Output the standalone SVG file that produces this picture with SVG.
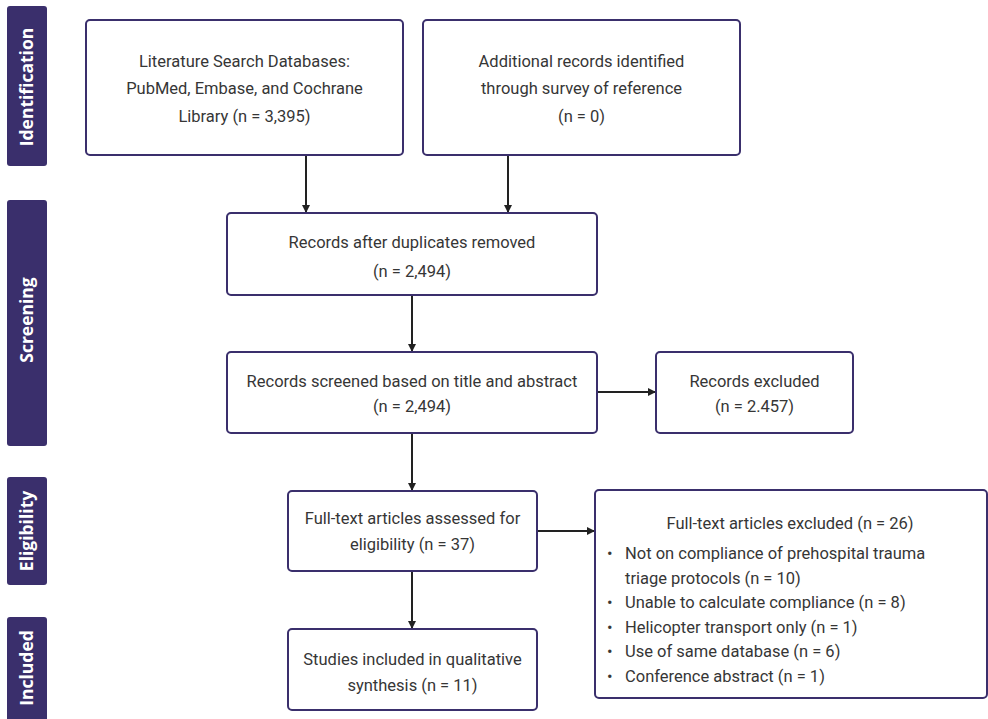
<svg xmlns="http://www.w3.org/2000/svg" width="988" height="719" viewBox="0 0 988 719">
  <style>
    .band { fill: #3a2f6c; }
    .band-label { fill: #ffffff; font-family: "Open Sans", "Liberation Sans", sans-serif; font-weight: 700; font-size: 17.5px; text-anchor: middle; }
    .box { fill: #ffffff; stroke: #3a2f6c; stroke-width: 2; }
    .txt { fill: #363636; font-family: Roboto, "Liberation Sans", sans-serif; font-size: 16.5px; text-anchor: middle; }
    .txt-l { fill: #363636; font-family: Roboto, "Liberation Sans", sans-serif; font-size: 16.5px; }
    .link { stroke: #222222; stroke-width: 2; fill: none; marker-end: url(#arrow); }
  </style>
  <defs>
    <marker id="arrow" markerWidth="8" markerHeight="8" refX="7" refY="4" orient="auto" markerUnits="userSpaceOnUse">
      <path d="M0,0 L8,4 L0,8 Z" fill="#222222"/>
    </marker>
  </defs>

  <rect width="988" height="719" fill="#ffffff"/>

  <!-- Stage bands -->
  <g id="stage-identification">
    <rect class="band" x="7" y="6" width="40" height="160" rx="3"/>
    <text class="band-label" transform="translate(33,87) rotate(-90)">Identification</text>
  </g>
  <g id="stage-screening">
    <rect class="band" x="7" y="200" width="40" height="246" rx="3"/>
    <text class="band-label" transform="translate(33,320) rotate(-90)">Screening</text>
  </g>
  <g id="stage-eligibility">
    <rect class="band" x="7" y="477" width="40" height="108" rx="3"/>
    <text class="band-label" transform="translate(33,531) rotate(-90)">Eligibility</text>
  </g>
  <g id="stage-included">
    <rect class="band" x="7" y="617" width="40" height="110" rx="3"/>
    <text class="band-label" transform="translate(33,668) rotate(-90)">Included</text>
  </g>

  <!-- Connectors -->
  <g id="connectors">
    <line class="link" x1="306" y1="155" x2="306" y2="212"/>
    <line class="link" x1="508" y1="155" x2="508" y2="212"/>
    <line class="link" x1="412" y1="295" x2="412" y2="351"/>
    <line class="link" x1="597" y1="392" x2="655" y2="392"/>
    <line class="link" x1="412" y1="433" x2="412" y2="490"/>
    <line class="link" x1="537" y1="531" x2="594" y2="531"/>
    <line class="link" x1="412" y1="571" x2="412" y2="628"/>
  </g>

  <!-- Nodes -->
  <g id="node-databases">
    <rect class="box" x="86" y="20" width="317" height="135" rx="4"/>
    <text class="txt" x="244.5" y="67">Literature Search Databases:</text>
    <text class="txt" x="244.5" y="94">PubMed, Embase, and Cochrane</text>
    <text class="txt" x="244.5" y="122">Library (n = 3,395)</text>
  </g>
  <g id="node-additional">
    <rect class="box" x="423" y="20" width="317" height="135" rx="4"/>
    <text class="txt" x="581.5" y="67">Additional records identified</text>
    <text class="txt" x="581.5" y="94">through survey of reference</text>
    <text class="txt" x="581.5" y="122">(n = 0)</text>
  </g>
  <g id="node-deduplicated">
    <rect class="box" x="227" y="213" width="370" height="82" rx="4"/>
    <text class="txt" x="412" y="248">Records after duplicates removed</text>
    <text class="txt" x="412" y="277">(n = 2,494)</text>
  </g>
  <g id="node-screened">
    <rect class="box" x="227" y="352" width="370" height="81" rx="4"/>
    <text class="txt" x="412" y="387">Records screened based on title and abstract</text>
    <text class="txt" x="412" y="412">(n = 2,494)</text>
  </g>
  <g id="node-excluded">
    <rect class="box" x="656" y="352" width="197" height="81" rx="4"/>
    <text class="txt" x="754.5" y="387">Records excluded</text>
    <text class="txt" x="754.5" y="412">(n = 2.457)</text>
  </g>
  <g id="node-fulltext">
    <rect class="box" x="288" y="491" width="249" height="80" rx="4"/>
    <text class="txt" x="412.5" y="524">Full-text articles assessed for</text>
    <text class="txt" x="412.5" y="550">eligibility (n = 37)</text>
  </g>
  <g id="node-fulltext-excluded">
    <rect class="box" x="595" y="490" width="392" height="208" rx="4"/>
    <text class="txt" x="790" y="529">Full-text articles excluded (n = 26)</text>
    <text class="txt-l" x="607" y="559">•</text>
    <text class="txt-l" x="625" y="559">Not on compliance of prehospital trauma</text>
    <text class="txt-l" x="625" y="584">triage protocols (n = 10)</text>
    <text class="txt-l" x="607" y="608">•</text>
    <text class="txt-l" x="625" y="608">Unable to calculate compliance (n = 8)</text>
    <text class="txt-l" x="607" y="633">•</text>
    <text class="txt-l" x="625" y="633">Helicopter transport only (n = 1)</text>
    <text class="txt-l" x="607" y="657">•</text>
    <text class="txt-l" x="625" y="657">Use of same database (n = 6)</text>
    <text class="txt-l" x="607" y="682">•</text>
    <text class="txt-l" x="625" y="682">Conference abstract (n = 1)</text>
  </g>
  <g id="node-included">
    <rect class="box" x="288" y="629" width="249" height="81" rx="4"/>
    <text class="txt" x="412.5" y="665">Studies included in qualitative</text>
    <text class="txt" x="412.5" y="691">synthesis (n = 11)</text>
  </g>
</svg>
